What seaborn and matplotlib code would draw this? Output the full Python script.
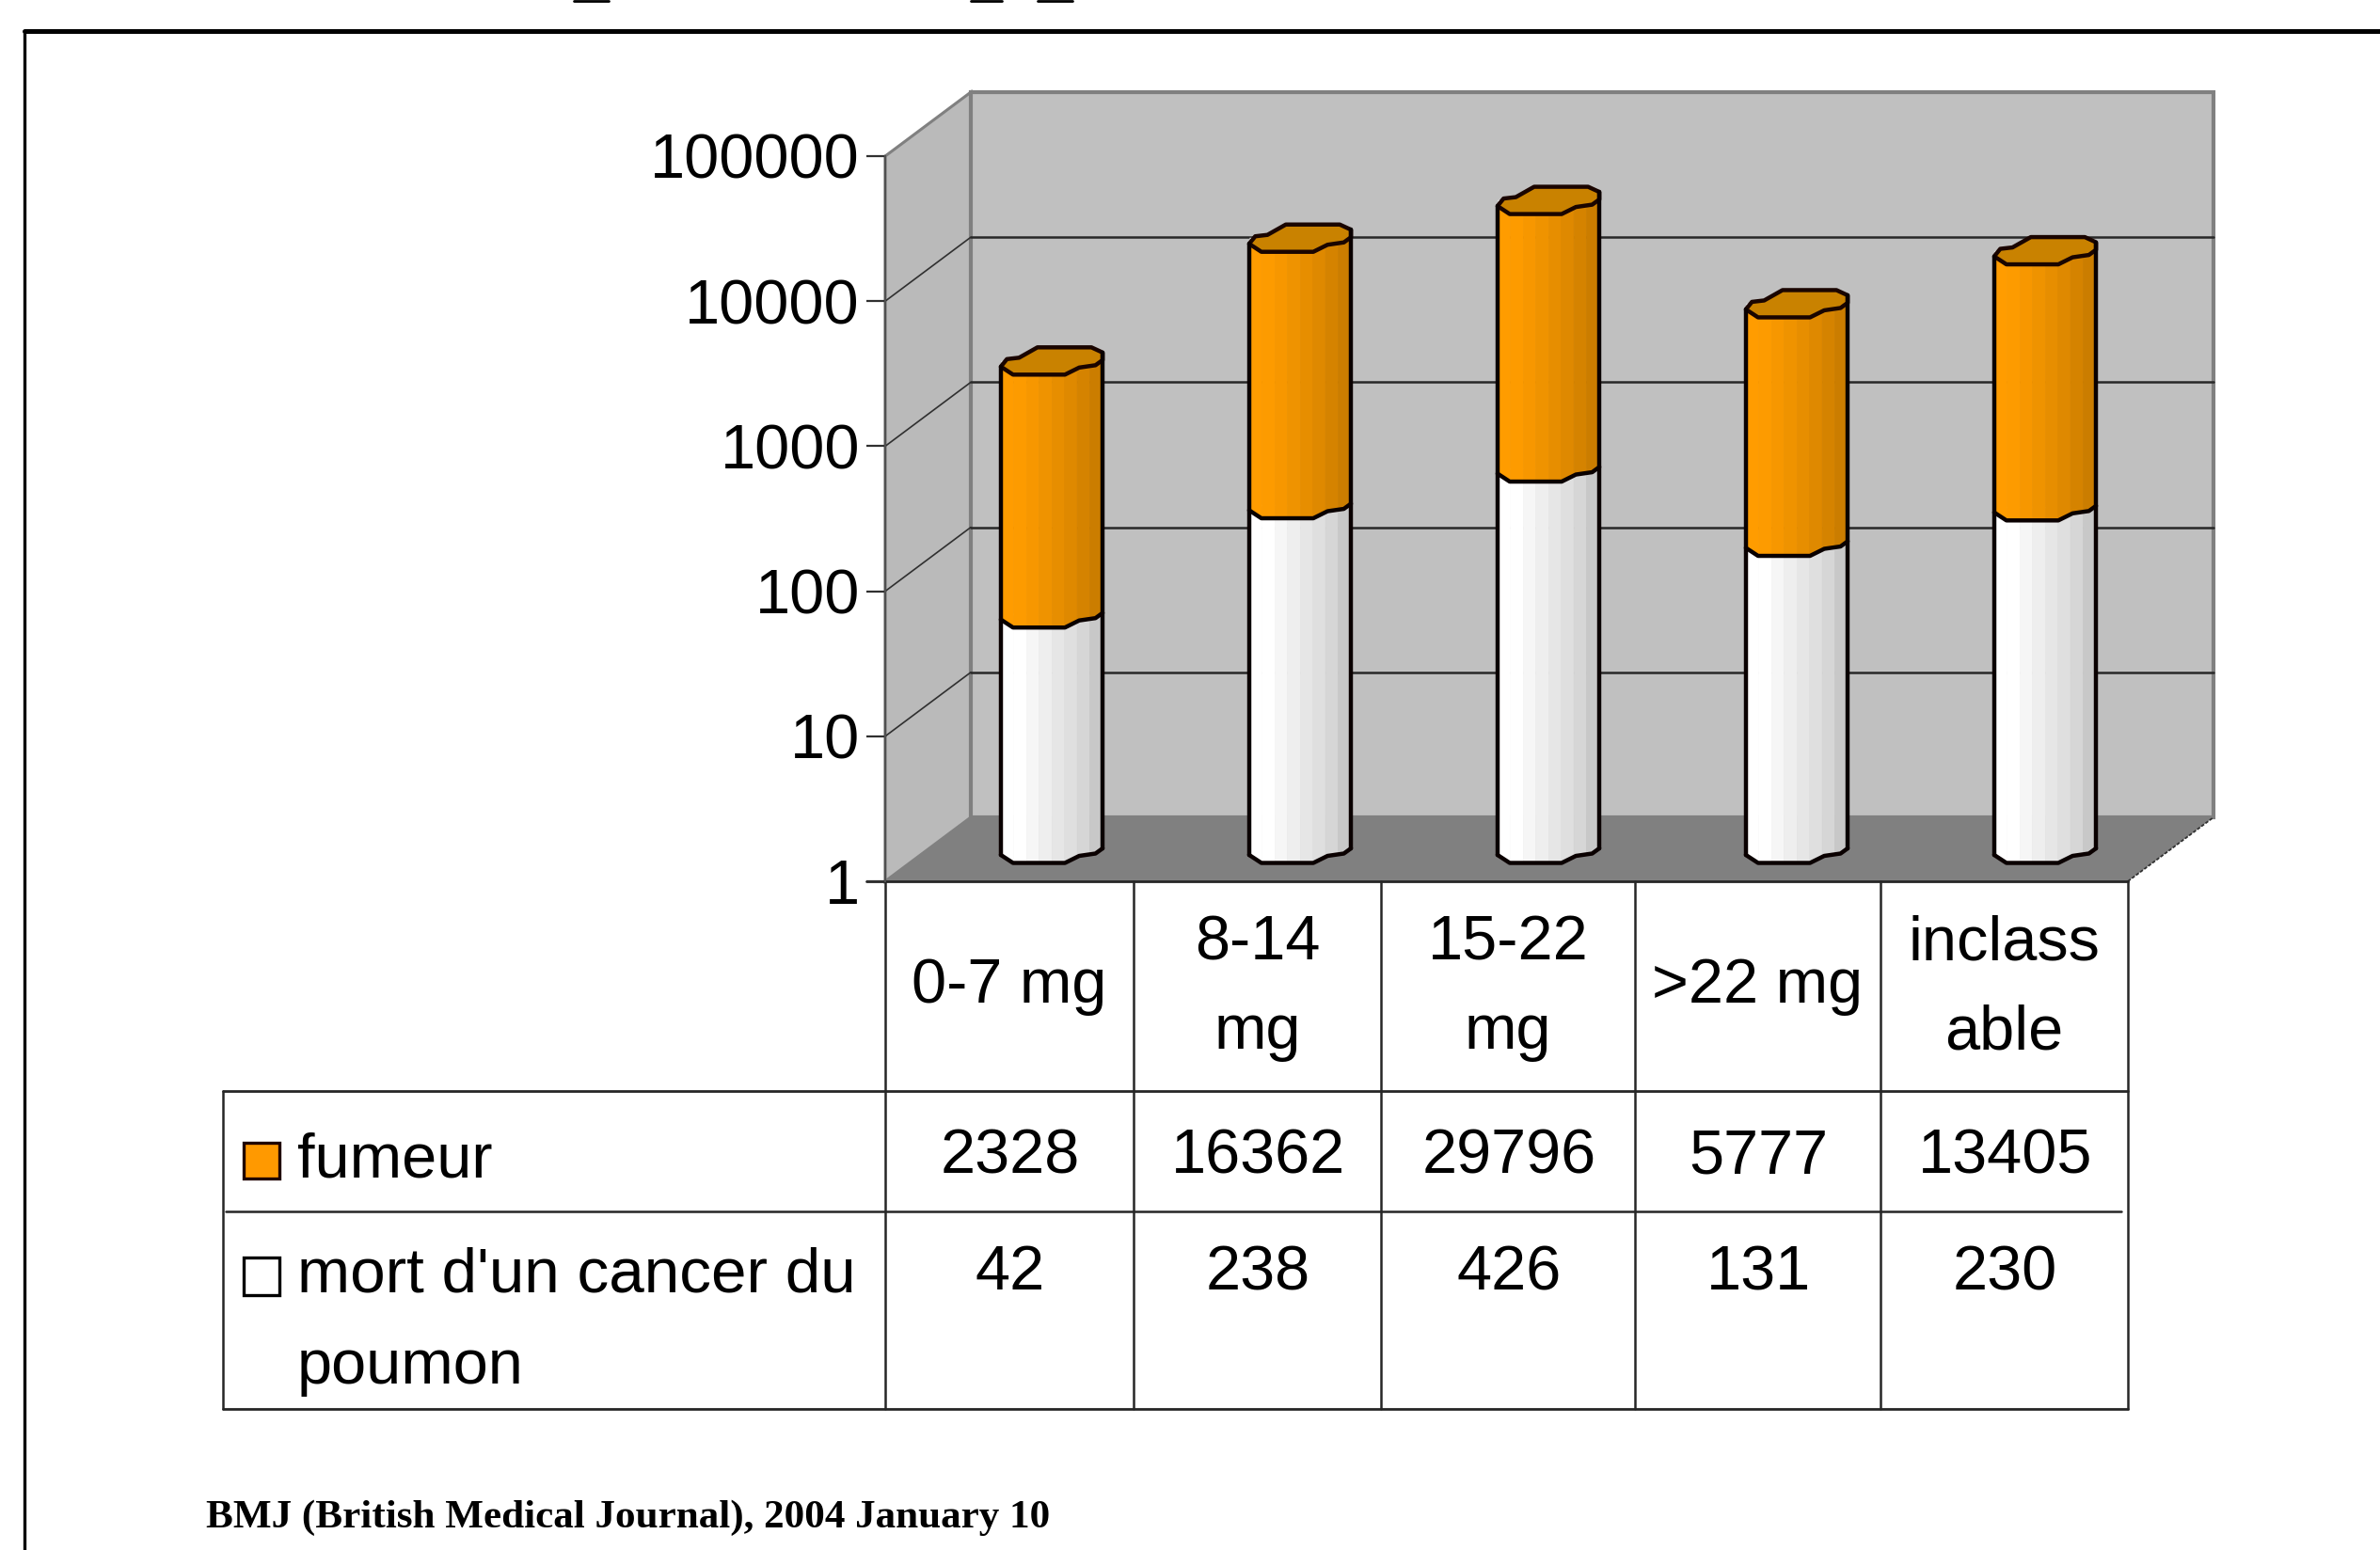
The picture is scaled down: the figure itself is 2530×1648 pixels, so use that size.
import numpy as np
import pandas as pd
import matplotlib
matplotlib.use('Agg')
import matplotlib.pyplot as plt
from matplotlib.patches import Polygon, Rectangle
from matplotlib.ticker import FixedLocator, FixedFormatter, NullLocator
import seaborn as sns

# data
categories = ['0-7 mg', '8-14 mg', '15-22 mg', '>22 mg', 'inclassable']
fumeur = [2328, 16362, 29796, 5777, 13405]
mort = [42, 238, 426, 131, 230]
series_names = ['fumeur', "mort d'un cancer du poumon"]
category_lines = [['0-7 mg'], ['8-14', 'mg'], ['15-22', 'mg'], ['>22 mg'], ['inclass', 'able']]
decades = [1, 10, 100, 1000, 10000, 100000]
decade_labels = ['1', '10', '100', '1000', '10000', '100000']
source = 'BMJ (British Medical Journal), 2004 January 10'

W, H = 2530, 1648
ORANGE_BANDS = ['#ff9c00', '#fd9b00', '#f79700', '#ef9300', '#e78e00', '#df8900', '#d58300', '#cb7d00']
WHITE_BANDS = ['#ffffff', '#ffffff', '#f6f6f6', '#eeeeee', '#e6e6e6', '#dfdfdf', '#d6d6d6', '#c8c8c8']
CAP = '#c98200'

# shape of the octagonal disc, in bar width fractions and pixels around its centre
FRONT_X = [0, 0.12, 0.63, 0.77, 0.93, 1]
FRONT_Y = [6, 14.5, 14.5, 7, 4.5, -1]
BACK_X = [0, 0.06, 0.18, 0.36, 0.89, 1]
BACK_Y = [6, -2, -3.5, -14.5, -14.5, -9]

sns.set_theme(style='white')
plt.rcParams['font.family'] = ['Liberation Sans', 'DejaVu Sans']
TEXT_SIZE = 48


def axes_from_pixels(fig, left, top, right, bottom, **kwargs):
    return fig.add_axes([left / W, 1 - bottom / H, (right - left) / W, (bottom - top) / H], **kwargs)


fig = plt.figure(figsize=(W / 100, H / 100), dpi=100, facecolor='white')

# background layer in pixel coordinates: frame, walls, table
bg = axes_from_pixels(fig, 0, 0, W, H, zorder=0)
bg.set_xlim(0, W)
bg.set_ylim(H, 0)
bg.axis('off')

# value axis on the front edge of the left wall
val_ax = axes_from_pixels(fig, 941, 166, 1041, 937, zorder=1)
val_ax.set_facecolor('none')
val_ax.set_yscale('log')
val_ax.set_ylim(1, 100000)
val_ax.yaxis.set_major_locator(FixedLocator(decades))
val_ax.yaxis.set_major_formatter(FixedFormatter(decade_labels))
val_ax.yaxis.set_minor_locator(NullLocator())
val_ax.tick_params(axis='y', length=14.5, width=1.6, color='#303030', pad=5,
                   labelsize=TEXT_SIZE, labelcolor='black', left=True)
val_ax.set_xticks([])
for side in ['top', 'right', 'bottom']:
    val_ax.spines[side].set_visible(False)
val_ax.spines['left'].set_color('#505050')
val_ax.spines['left'].set_linewidth(1.6)

# bars stand in the middle of the chart's depth
ax = axes_from_pixels(fig, 986, 132, 2306, 903, zorder=2)
df = pd.DataFrame({
    'dose': categories * 2,
    'n': fumeur + mort,
    'serie': [series_names[0]] * 5 + [series_names[1]] * 5,
})
sns.barplot(data=df, x='dose', y='n', hue='serie', hue_order=series_names, dodge=False,
            width=0.41, palette=[ORANGE_BANDS[0], WHITE_BANDS[0]], legend=False,
            log_scale=True, ax=ax)
ax.set_ylim(1, 100000)
ax.set_xlim(-0.5, 4.5)
ax.axis('off')
ax.patch.set_visible(False)

# top layer, also in pixels, for the shaded cylinders
over = axes_from_pixels(fig, 0, 0, W, H, zorder=3)
over.set_xlim(0, W)
over.set_ylim(H, 0)
over.axis('off')
over.patch.set_visible(False)


def to_px(axes, x, y):
    return over.transData.inverted().transform(axes.transData.transform((x, y)))


# walls and floor, the depth offset is the same for every grid line
val_x = 941
depth_x, depth_y = 91, 68
right_x = 2262
base_y = to_px(val_ax, 0, 1)[1]
top_y = to_px(val_ax, 0, 100000)[1]
bg.add_patch(Polygon([(val_x, top_y), (val_x + depth_x, top_y - depth_y),
                      (val_x + depth_x, base_y - depth_y), (val_x, base_y)],
                     fc='#bababa', ec='#808080', lw=2.2))
bg.add_patch(Polygon([(val_x + depth_x, top_y - depth_y), (right_x + depth_x, top_y - depth_y),
                      (right_x + depth_x, base_y - depth_y), (val_x + depth_x, base_y - depth_y)],
                     fc='#c0c0c0', ec='#808080', lw=3))
bg.add_patch(Polygon([(val_x, base_y), (val_x + depth_x, base_y - depth_y),
                      (right_x + depth_x, base_y - depth_y), (right_x, base_y)],
                     fc='#808080', ec='none'))
for v in decades[1:-1]:
    y = to_px(val_ax, 0, v)[1]
    bg.plot([val_x, val_x + depth_x], [y, y - depth_y], color='#303030', lw=1.2)
    bg.plot([val_x + depth_x, right_x + depth_x], [y - depth_y, y - depth_y], color='#282828', lw=1.8)
bg.plot([right_x, right_x + depth_x], [base_y, base_y - depth_y], color='#303030', lw=1.3, ls=(0, (2, 1)))

# outer frame and the clipped title fragments at the very top
bg.plot([26, W], [33, 33], color='black', lw=3.6)
bg.plot([26, 26], [33, H], color='black', lw=2.4)
for x0, x1 in [(610, 647), (1032, 1065), (1103, 1140)]:
    bg.plot([x0, x1], [1, 1], color='black', lw=2)

# table grid
col_edges = [941, 1205, 1468, 1738, 1999, 2262]
table_color = '#262626'
bg.plot([921, right_x], [base_y, base_y], color=table_color, lw=2)
bg.plot([237, right_x], [1160, 1160], color=table_color, lw=2)
bg.plot([240, 2255], [1288, 1288], color=table_color, lw=1.8)
bg.plot([237, right_x], [1498, 1498], color=table_color, lw=2)
bg.plot([237, 237], [1160, 1498], color=table_color, lw=1.8)
for x in col_edges:
    bg.plot([x, x], [base_y, 1498], color=table_color, lw=1.8)

# table texts
col_centers = [(a + b) / 2 for a, b in zip(col_edges[:-1], col_edges[1:])]
for cx, lines in zip(col_centers, category_lines):
    if len(lines) == 1:
        bg.text(cx, 1066, lines[0], ha='center', va='baseline', fontsize=TEXT_SIZE, color='black')
    else:
        bg.text(cx, 1020, lines[0], ha='center', va='baseline', fontsize=TEXT_SIZE, color='black')
        bg.text(cx, 1115, lines[1], ha='center', va='baseline', fontsize=TEXT_SIZE, color='black')
for cx, a, b in zip(col_centers, fumeur, mort):
    bg.text(cx + 1, 1248, str(a), ha='center', va='baseline', fontsize=TEXT_SIZE, color='black')
    bg.text(cx + 1, 1371, str(b), ha='center', va='baseline', fontsize=TEXT_SIZE, color='black')

# legend keys and names inside the table
bg.add_patch(Rectangle((259, 1215), 38, 38, fc='#ff9900', ec='#200000', lw=2.4))
bg.add_patch(Rectangle((259, 1337), 38, 40, fc='white', ec='black', lw=2.4))
bg.text(316, 1252, series_names[0], ha='left', va='baseline', fontsize=TEXT_SIZE, color='black')
bg.text(316, 1373, "mort d'un cancer du", ha='left', va='baseline', fontsize=TEXT_SIZE + 0.5, color='black')
bg.text(316, 1471, 'poumon', ha='left', va='baseline', fontsize=TEXT_SIZE, color='black')

bg.text(219, 1624, source, ha='left', va='baseline', fontsize=31.1, color='black',
        family=['Liberation Serif', 'DejaVu Serif'], fontweight='bold')


def draw_segment(x_left, x_right, y_top, y_bottom, bands):
    # one vertical shaded piece of a cylinder, the edges follow the front of the disc
    n = len(bands)
    for k, color in enumerate(bands):
        fr = np.linspace(k / n, (k + 1) / n, 6)
        xs = x_left + fr * (x_right - x_left)
        top = y_top + np.interp(fr, FRONT_X, FRONT_Y)
        bottom = y_bottom + np.interp(fr, FRONT_X, FRONT_Y)
        verts = np.column_stack([np.r_[xs, xs[::-1]], np.r_[top, bottom[::-1]]])
        over.add_patch(Polygon(verts, fc=color, ec=color, lw=0.5))


def front_curve(x_left, x_right, y):
    return x_left + np.array(FRONT_X) * (x_right - x_left), y + np.array(FRONT_Y)


# the first five patches are the orange series, the next five the white one
patches = ax.patches
line_kw = dict(color='#0a0000', lw=3.2, solid_joinstyle='round', solid_capstyle='round')
for i in range(len(categories)):
    tall = patches[i]
    low = patches[i + len(categories)]
    x0, x1 = tall.get_x(), tall.get_x() + tall.get_width()
    px_left = to_px(ax, x0, 1)[0]
    px_right = to_px(ax, x1, 1)[0]
    y_base = to_px(ax, x0, 1)[1]
    y_tall = to_px(ax, x0, tall.get_y() + tall.get_height())[1]
    y_low = to_px(ax, x0, low.get_y() + low.get_height())[1]

    draw_segment(px_left, px_right, y_tall, y_low, ORANGE_BANDS)
    draw_segment(px_left, px_right, y_low, y_base, WHITE_BANDS)

    # sides
    over.plot([px_left, px_left], [y_tall + FRONT_Y[0], y_base + FRONT_Y[0]], **line_kw)
    over.plot([px_right, px_right], [y_tall + BACK_Y[-1], y_base + FRONT_Y[-1]], **line_kw)

    # top disc
    fx, fy = front_curve(px_left, px_right, y_tall)
    bx = px_left + np.array(BACK_X) * (px_right - px_left)
    by = y_tall + np.array(BACK_Y)
    verts = np.column_stack([np.r_[fx, bx[::-1]], np.r_[fy, by[::-1]]])
    over.add_patch(Polygon(verts, fc=CAP, ec='#1a0500', lw=3.2, joinstyle='round'))

    # joint between the two colours and bottom of the cylinder
    fx, fy = front_curve(px_left, px_right, y_low)
    over.plot(fx, fy, **line_kw)
    fx, fy = front_curve(px_left, px_right, y_base)
    over.plot(fx, fy, **line_kw)

fig.savefig('out.png', dpi=100, facecolor='white')
